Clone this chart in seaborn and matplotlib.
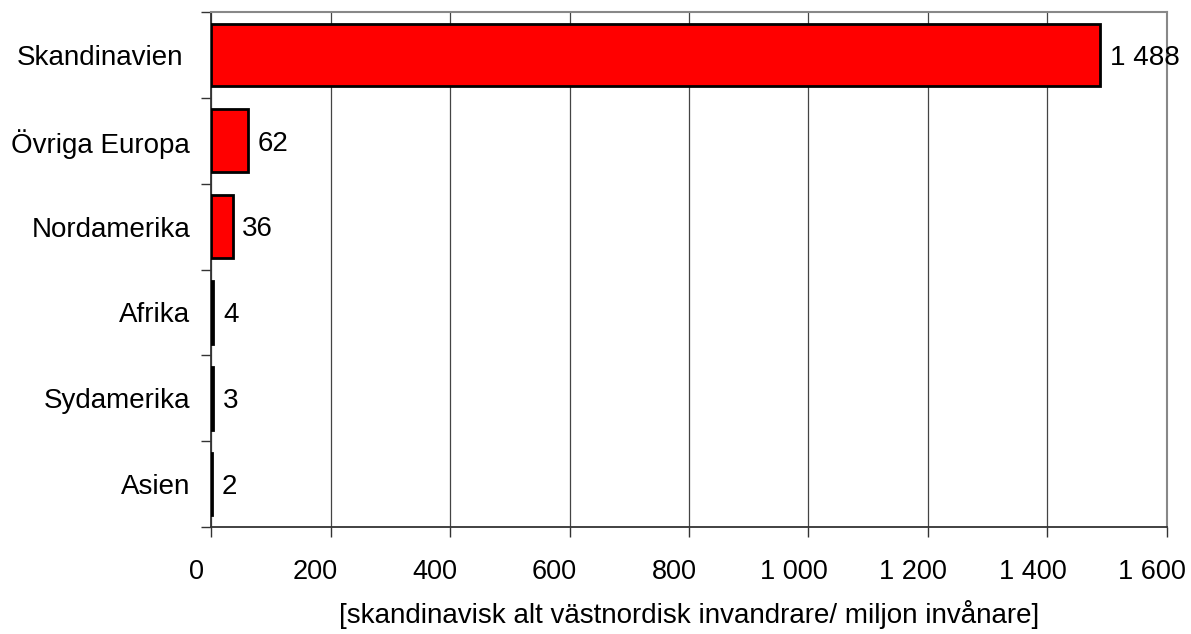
import seaborn as sns
import matplotlib.pyplot as plt
import matplotlib.ticker as mticker
import matplotlib.transforms as mtransforms

regions = ["Skandinavien", "Övriga Europa", "Nordamerika", "Afrika", "Sydamerika", "Asien"]
values = [1488, 62, 36, 4, 3, 2]
xticks = [0, 200, 400, 600, 800, 1000, 1200, 1400, 1600]

sns.set_theme(style="white")
plt.rcParams['font.family'] = ['Liberation Sans', 'DejaVu Sans']

fig = plt.figure(figsize=(11.91, 6.34), dpi=100)
ax = fig.add_axes([0.1772, 0.1688, 0.8026, 0.8122])

sns.barplot(x=values, y=regions, orient="h", color="#ff0000", saturation=1,
            edgecolor="black", linewidth=2.0, width=0.73, ax=ax, zorder=3)

def fmt(v, pos=None):
    return f"{int(v):,}".replace(",", " ")

for p, v in zip(ax.patches, values):
    ax.annotate(fmt(v), (p.get_width(), p.get_y() + p.get_height() / 2),
                xytext=(7, -2), textcoords="offset points",
                va="center", ha="left", fontsize=20, color="black")

ax.set_xlim(0, 1600)
ax.set_ylim(len(regions) - 0.5, -0.5)
ax.set_xticks(xticks)
ax.xaxis.set_major_formatter(mticker.FuncFormatter(fmt))
ax.set_yticks([i - 0.5 for i in range(len(regions) + 1)], minor=False)
ax.set_yticklabels([])
ax.set_yticks(range(len(regions)), minor=True)
ax.set_yticklabels(regions, minor=True)
ax.tick_params(axis="y", which="minor", length=0, pad=15, labelsize=20, labelcolor="black")
ax.tick_params(axis="y", which="major", length=7, width=1, color="#333333", direction="out", left=True)
ax.tick_params(axis="x", length=7, width=1, color="#333333", direction="out", bottom=True,
               labelsize=19.5, pad=16, labelcolor="black")
ax.grid(axis="x", color="#444444", linewidth=0.9, zorder=0)
ax.set_axisbelow(True)

# Excel-style offsets of the tick labels
shift = mtransforms.ScaledTranslation(-15 / 100, 0, fig.dpi_scale_trans)
for lab in ax.get_xticklabels():
    lab.set_transform(lab.get_transform() + shift)
ylab0 = ax.get_yticklabels(minor=True)[0]
ylab0.set_transform(ylab0.get_transform() + mtransforms.ScaledTranslation(-7 / 100, 0, fig.dpi_scale_trans))

ax.set_xlabel("[skandinavisk alt västnordisk invandrare/ miljon invånare]", fontsize=20,
              labelpad=11, color="black")
ax.set_ylabel("")

for side in ["top", "right"]:
    ax.spines[side].set_color("#888888")
    ax.spines[side].set_linewidth(1.5)
for side in ["left", "bottom"]:
    ax.spines[side].set_color("#333333")
    ax.spines[side].set_linewidth(1.3)

fig.savefig("out.png", dpi=100)
